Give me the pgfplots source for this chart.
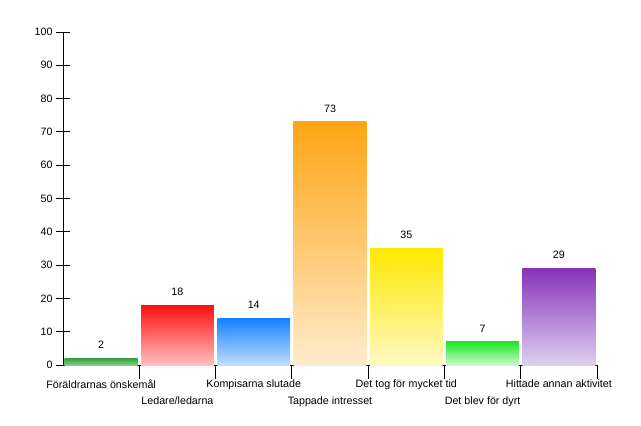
\documentclass[border=0pt]{standalone}
\usepackage{pgfplots}
\pgfplotsset{compat=1.18}
\usepackage{fontspec}
\setmainfont{Liberation Sans}
\definecolor{g1t}{RGB}{50,160,60}\definecolor{g1b}{RGB}{135,205,135}
\definecolor{r1t}{RGB}{255,15,15}\definecolor{r1b}{RGB}{255,192,192}
\definecolor{b1t}{RGB}{20,130,255}\definecolor{b1b}{RGB}{192,222,255}
\definecolor{o1t}{RGB}{255,165,20}\definecolor{o1b}{RGB}{255,236,205}
\definecolor{y1t}{RGB}{255,232,0}\definecolor{y1b}{RGB}{255,249,195}
\definecolor{g2t}{RGB}{30,230,40}\definecolor{g2b}{RGB}{205,250,205}
\definecolor{p1t}{RGB}{135,50,185}\definecolor{p1b}{RGB}{222,208,240}
\begin{document}
\begin{tikzpicture}
\path[use as bounding box] (-63bp,-61bp) rectangle (578bp,365bp);
\begin{axis}[
  at={(0,0)}, anchor=south west,
  scale only axis, width=534bp, height=333bp,
  font=\fontsize{10.7bp}{18bp}\selectfont,
  /pgf/number format/assume math mode=true,
  ymin=0, ymax=100, ytick={0,10,...,100},
  xmin=-0.5, xmax=6.5,
  axis x line*=bottom, axis y line*=left,
  axis line style={black, line width=0.8bp},
  tick style={black, line width=0.8bp},
  tick align=center, major tick length=14bp,
  xtick={0,...,6}, xtick style={draw=none},
  xticklabels={F\"or\"aldrarnas \"onskem\aa l,{\vphantom{L}\\Ledare/ledarna},Kompisarna slutade,{\vphantom{L}\\Tappade intresset},Det tog f\"or mycket tid,{\vphantom{L}\\Det blev f\"or dyrt},Hittade annan aktivitet},
  xticklabel style={align=center, yshift=3bp},
  extra x ticks={0.5,1.5,...,6.5}, extra x tick labels={},
  extra x tick style={xtick style={draw=black}},
  ybar, bar shift=0pt, bar width=0.955,
  nodes near coords,
  every node near coord/.append style={font=\fontsize{10.7bp}{12bp}\selectfont, yshift=6bp},
  clip=false,
]
\addplot[draw=none, top color=g1t, bottom color=g1b] coordinates {(0,2)};
\addplot[draw=none, top color=r1t, bottom color=r1b] coordinates {(1,18)};
\addplot[draw=none, top color=b1t, bottom color=b1b] coordinates {(2,14)};
\addplot[draw=none, top color=o1t, bottom color=o1b] coordinates {(3,73)};
\addplot[draw=none, top color=y1t, bottom color=y1b] coordinates {(4,35)};
\addplot[draw=none, top color=g2t, bottom color=g2b] coordinates {(5,7)};
\addplot[draw=none, top color=p1t, bottom color=p1b] coordinates {(6,29)};
\end{axis}
\end{tikzpicture}
\end{document}
